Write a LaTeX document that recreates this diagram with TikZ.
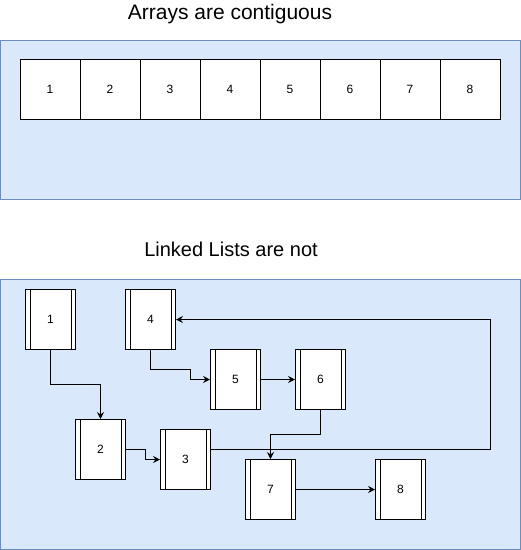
\documentclass[tikz,border=0pt]{standalone}
\usepackage{fontspec}
\setmainfont{Liberation Sans}
\usetikzlibrary{arrows.meta}
\definecolor{panelfill}{HTML}{DAE8FC}
\definecolor{paneldraw}{HTML}{6C8EBF}
\begin{document}
\begin{tikzpicture}[x=1pt,y=-1pt,
  panel/.style={draw=paneldraw, fill=panelfill, line width=1pt},
  cell/.style={draw=black, fill=white, line width=1pt, minimum width=60pt, minimum height=60pt, inner sep=0pt, font=\fontsize{12}{14}\selectfont},
  proc/.style={draw=black, fill=white, line width=1pt, minimum width=50pt, minimum height=60pt, inner sep=0pt, font=\fontsize{12}{14}\selectfont},
  link/.style={line width=1pt, -{Stealth[length=7pt,width=7pt,inset=2.5pt]}},
  title/.style={anchor=base, inner sep=0pt}]
\useasboundingbox (0,0) rectangle (521,550);
% titles
\node[title, font=\fontsize{21}{24}\selectfont] (t1) at (230,19.5) {Arrays are contiguous};
\node[title, font=\fontsize{20}{24}\selectfont] (t2) at (231,256.5) {Linked Lists are not};
% panels
\draw[panel] (0.5,40.5) rectangle (520.5,199.5);
\draw[panel] (0.5,279.5) rectangle (520.5,549.5);
% array cells
\foreach \i in {1,...,8} {
  \node[cell] (a\i) at ({-10+60*\i},89.5) {\i};
}
% linked list nodes
\node[proc] (n1) at (50.5,319.5) {1};
\node[proc] (n4) at (150.5,319.5) {4};
\node[proc] (n5) at (235.5,379.5) {5};
\node[proc] (n6) at (320.5,379.5) {6};
\node[proc] (n2) at (100.5,449.5) {2};
\node[proc] (n3) at (185.5,459.5) {3};
\node[proc] (n7) at (270.5,489.5) {7};
\node[proc] (n8) at (400.5,489.5) {8};
\foreach \n in {n1,n2,n3,n4,n5,n6,n7,n8} {
  \draw[line width=1pt] ([xshift=5pt]\n.north west) -- ([xshift=5pt]\n.south west);
  \draw[line width=1pt] ([xshift=-5pt]\n.north east) -- ([xshift=-5pt]\n.south east);
}
% connectors
\coordinate (c12a) at (50.5,384.5);
\coordinate (c12b) at (100.5,384.5);
\draw[link] (n1.south) -- (c12a) -- (c12b) -- (n2.north);
\coordinate (c23a) at (145.5,449.5);
\coordinate (c23b) at (145.5,459.5);
\draw[link] (n2.east) -- (c23a) -- (c23b) -- (n3.west);
\coordinate (c34a) at (490.5,449.5);
\coordinate (c34b) at (490.5,319.5);
\draw[link] ([yshift=10pt]n3.east) -- (c34a) -- (c34b) -- (n4.east);
\coordinate (c45a) at (150.5,369.5);
\coordinate (c45b) at (190.5,369.5);
\coordinate (c45c) at (190.5,379.5);
\draw[link] (n4.south) -- (c45a) -- (c45b) -- (c45c) -- (n5.west);
\draw[link] (n5.east) -- (n6.west);
\coordinate (c67a) at (320.5,434.5);
\coordinate (c67b) at (270.5,434.5);
\draw[link] (n6.south) -- (c67a) -- (c67b) -- (n7.north);
\draw[link] (n7.east) -- (n8.west);
\end{tikzpicture}
\end{document}
